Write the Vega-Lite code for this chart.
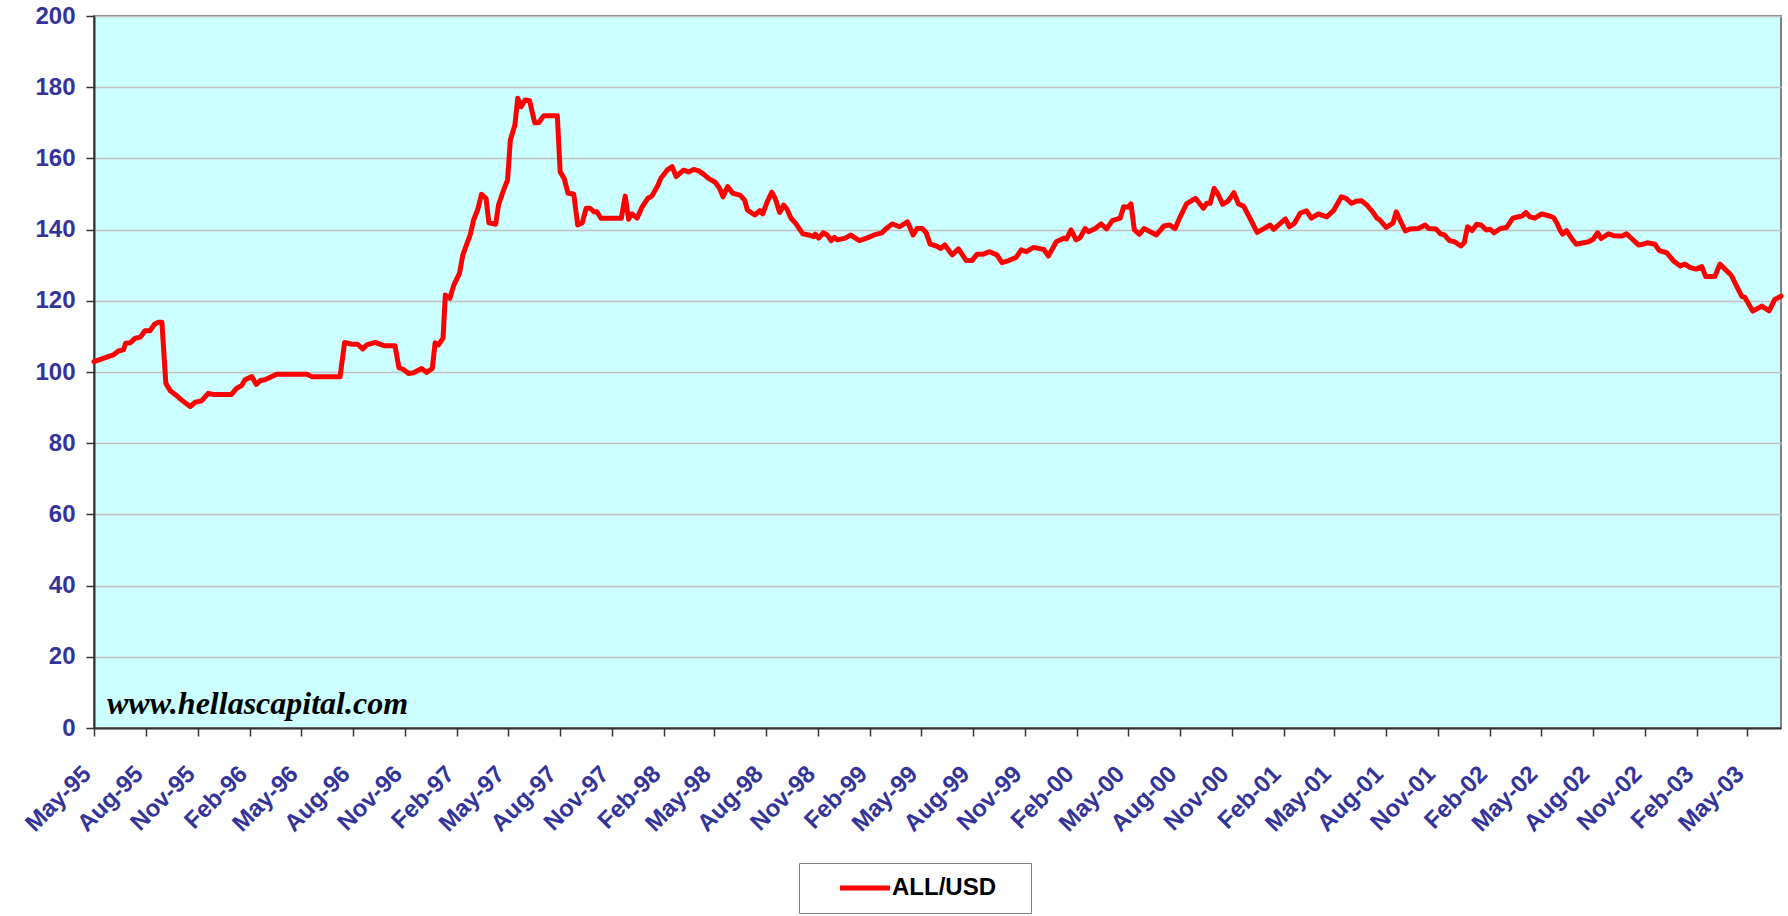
{
  "$schema": "https://vega.github.io/schema/vega-lite/v6.json",
  "width": 1687,
  "height": 712,
  "autosize": {"type": "none"},
  "padding": {"left": 94, "top": 16, "right": 7, "bottom": 188},
  "background": "white",
  "config": {
    "view": {"fill": "#CCFFFF", "stroke": "#808080", "strokeWidth": 2},
    "font": "Liberation Sans"
  },
  "layer": [
    {
      "data": {"values": [
        {"date":"1995-05-01","rate":102.9},{"date":"1995-06-04","rate":104.8},{"date":"1995-06-13","rate":105.9},{"date":"1995-06-22","rate":106.2},{"date":"1995-06-26","rate":108.1},{"date":"1995-07-04","rate":108.2},{"date":"1995-07-13","rate":109.5},{"date":"1995-07-22","rate":109.8},{"date":"1995-07-30","rate":111.6},{"date":"1995-08-08","rate":111.6},{"date":"1995-08-16","rate":113.4},{"date":"1995-08-23","rate":114.0},{"date":"1995-08-29","rate":114.0},{"date":"1995-09-05","rate":96.8},{"date":"1995-09-13","rate":94.7},{"date":"1995-09-23","rate":93.5},{"date":"1995-10-03","rate":92.1},{"date":"1995-10-18","rate":90.3},{"date":"1995-10-27","rate":91.5},{"date":"1995-11-07","rate":91.9},{"date":"1995-11-19","rate":94.0},{"date":"1995-11-28","rate":93.7},{"date":"1995-12-30","rate":93.7},
        {"date":"1996-01-08","rate":95.4},{"date":"1996-01-17","rate":96.2},{"date":"1996-01-23","rate":97.8},{"date":"1996-02-04","rate":98.7},{"date":"1996-02-12","rate":96.5},{"date":"1996-02-19","rate":97.6},{"date":"1996-02-27","rate":97.8},{"date":"1996-03-19","rate":99.4},{"date":"1996-05-11","rate":99.4},{"date":"1996-05-20","rate":98.7},{"date":"1996-07-09","rate":98.7},{"date":"1996-07-17","rate":108.3},{"date":"1996-07-30","rate":107.8},{"date":"1996-08-09","rate":107.8},{"date":"1996-08-18","rate":106.5},{"date":"1996-08-25","rate":107.6},{"date":"1996-09-09","rate":108.3},{"date":"1996-09-24","rate":107.4},{"date":"1996-10-14","rate":107.4},{"date":"1996-10-21","rate":101.2},{"date":"1996-10-29","rate":100.7},{"date":"1996-11-07","rate":99.6},{"date":"1996-11-16","rate":99.8},{"date":"1996-11-30","rate":101.0},{"date":"1996-12-09","rate":99.9},{"date":"1996-12-19","rate":101.0},{"date":"1996-12-24","rate":108.2},{"date":"1996-12-30","rate":107.6},
        {"date":"1997-01-07","rate":109.5},{"date":"1997-01-11","rate":121.6},{"date":"1997-01-19","rate":120.7},{"date":"1997-01-26","rate":124.4},{"date":"1997-02-05","rate":127.7},{"date":"1997-02-11","rate":132.9},{"date":"1997-02-24","rate":138.5},{"date":"1997-03-02","rate":142.7},{"date":"1997-03-09","rate":145.5},{"date":"1997-03-16","rate":149.9},{"date":"1997-03-24","rate":148.8},{"date":"1997-03-29","rate":141.9},{"date":"1997-04-10","rate":141.5},{"date":"1997-04-15","rate":146.9},{"date":"1997-04-24","rate":151.1},{"date":"1997-05-01","rate":153.9},{"date":"1997-05-06","rate":165.2},{"date":"1997-05-14","rate":169.4},{"date":"1997-05-19","rate":176.9},{"date":"1997-05-25","rate":174.5},{"date":"1997-06-01","rate":176.4},{"date":"1997-06-09","rate":176.2},{"date":"1997-06-18","rate":170.0},{"date":"1997-06-25","rate":170.0},{"date":"1997-07-04","rate":172.0},{"date":"1997-07-28","rate":172.0},{"date":"1997-08-02","rate":156.2},{"date":"1997-08-09","rate":154.4},{"date":"1997-08-16","rate":150.2},{"date":"1997-08-26","rate":150.0},{"date":"1997-09-02","rate":141.3},{"date":"1997-09-10","rate":141.9},{"date":"1997-09-17","rate":146.0},{"date":"1997-09-24","rate":146.0},{"date":"1997-10-01","rate":145.0},{"date":"1997-10-06","rate":145.0},{"date":"1997-10-13","rate":143.2},{"date":"1997-11-18","rate":143.2},{"date":"1997-11-25","rate":149.4},{"date":"1997-12-01","rate":142.9},{"date":"1997-12-07","rate":144.4},{"date":"1997-12-16","rate":143.2},{"date":"1997-12-25","rate":146.4},
        {"date":"1998-01-04","rate":148.8},{"date":"1998-01-11","rate":149.4},{"date":"1998-01-21","rate":152.2},{"date":"1998-01-27","rate":154.4},{"date":"1998-02-07","rate":156.7},{"date":"1998-02-16","rate":157.7},{"date":"1998-02-23","rate":154.9},{"date":"1998-03-08","rate":156.7},{"date":"1998-03-17","rate":156.2},{"date":"1998-03-26","rate":156.9},{"date":"1998-04-04","rate":156.5},{"date":"1998-04-13","rate":155.5},{"date":"1998-04-21","rate":154.4},{"date":"1998-05-03","rate":153.3},{"date":"1998-05-10","rate":151.8},{"date":"1998-05-17","rate":149.2},{"date":"1998-05-25","rate":152.1},{"date":"1998-06-03","rate":150.2},{"date":"1998-06-16","rate":149.7},{"date":"1998-06-24","rate":148.3},{"date":"1998-06-29","rate":145.5},{"date":"1998-07-12","rate":144.1},{"date":"1998-07-21","rate":145.3},{"date":"1998-07-26","rate":144.4},{"date":"1998-08-03","rate":147.8},{"date":"1998-08-11","rate":150.5},{"date":"1998-08-17","rate":148.8},{"date":"1998-08-25","rate":144.8},{"date":"1998-09-01","rate":146.9},{"date":"1998-09-07","rate":145.7},{"date":"1998-09-14","rate":143.2},{"date":"1998-09-22","rate":141.8},{"date":"1998-10-05","rate":138.8},{"date":"1998-10-15","rate":138.5},{"date":"1998-10-24","rate":138.0},{"date":"1998-10-27","rate":138.7},{"date":"1998-11-02","rate":137.6},{"date":"1998-11-10","rate":139.1},{"date":"1998-11-17","rate":138.5},{"date":"1998-11-24","rate":136.9},{"date":"1998-11-30","rate":137.8},{"date":"1998-12-05","rate":137.1},{"date":"1998-12-19","rate":137.6},{"date":"1998-12-29","rate":138.5},
        {"date":"1999-01-04","rate":137.8},{"date":"1999-01-13","rate":136.9},{"date":"1999-01-26","rate":137.6},{"date":"1999-02-08","rate":138.5},{"date":"1999-02-22","rate":139.1},{"date":"1999-02-28","rate":140.1},{"date":"1999-03-12","rate":141.6},{"date":"1999-03-25","rate":140.8},{"date":"1999-04-08","rate":142.2},{"date":"1999-04-18","rate":138.5},{"date":"1999-04-25","rate":140.3},{"date":"1999-05-04","rate":140.3},{"date":"1999-05-11","rate":139.1},{"date":"1999-05-18","rate":135.9},{"date":"1999-05-29","rate":135.4},{"date":"1999-06-06","rate":134.7},{"date":"1999-06-13","rate":135.7},{"date":"1999-06-26","rate":132.9},{"date":"1999-07-07","rate":134.6},{"date":"1999-07-21","rate":131.3},{"date":"1999-07-31","rate":131.3},{"date":"1999-08-09","rate":133.1},{"date":"1999-08-20","rate":133.1},{"date":"1999-08-31","rate":133.8},{"date":"1999-09-13","rate":132.9},{"date":"1999-09-22","rate":130.7},{"date":"1999-10-04","rate":131.3},{"date":"1999-10-17","rate":132.2},{"date":"1999-10-26","rate":134.3},{"date":"1999-11-04","rate":133.8},{"date":"1999-11-17","rate":135.0},{"date":"1999-12-05","rate":134.4},{"date":"1999-12-13","rate":132.6},{"date":"1999-12-27","rate":136.6},
        {"date":"2000-01-09","rate":137.6},{"date":"2000-01-14","rate":137.3},{"date":"2000-01-22","rate":139.9},{"date":"2000-01-31","rate":137.1},{"date":"2000-02-07","rate":137.7},{"date":"2000-02-16","rate":140.3},{"date":"2000-02-22","rate":139.4},{"date":"2000-03-05","rate":140.3},{"date":"2000-03-15","rate":141.6},{"date":"2000-03-25","rate":140.2},{"date":"2000-04-04","rate":142.5},{"date":"2000-04-18","rate":143.2},{"date":"2000-04-24","rate":146.4},{"date":"2000-05-02","rate":146.3},{"date":"2000-05-07","rate":147.2},{"date":"2000-05-13","rate":139.9},{"date":"2000-05-22","rate":138.7},{"date":"2000-05-30","rate":140.3},{"date":"2000-06-10","rate":139.4},{"date":"2000-06-21","rate":138.5},{"date":"2000-07-04","rate":141.0},{"date":"2000-07-14","rate":141.3},{"date":"2000-07-24","rate":140.3},{"date":"2000-08-02","rate":143.6},{"date":"2000-08-13","rate":147.2},{"date":"2000-08-29","rate":148.8},{"date":"2000-09-12","rate":146.0},{"date":"2000-09-18","rate":147.4},{"date":"2000-09-24","rate":147.4},{"date":"2000-10-01","rate":151.6},{"date":"2000-10-07","rate":150.2},{"date":"2000-10-16","rate":147.1},{"date":"2000-10-26","rate":148.1},{"date":"2000-11-05","rate":150.4},{"date":"2000-11-13","rate":147.2},{"date":"2000-11-22","rate":146.6},{"date":"2000-12-02","rate":143.6},{"date":"2000-12-16","rate":139.2},{"date":"2000-12-27","rate":140.2},
        {"date":"2001-01-08","rate":141.3},{"date":"2001-01-14","rate":140.1},{"date":"2001-01-25","rate":141.6},{"date":"2001-02-04","rate":143.0},{"date":"2001-02-11","rate":140.8},{"date":"2001-02-20","rate":141.8},{"date":"2001-03-02","rate":144.6},{"date":"2001-03-13","rate":145.3},{"date":"2001-03-22","rate":143.2},{"date":"2001-04-03","rate":144.4},{"date":"2001-04-18","rate":143.6},{"date":"2001-04-30","rate":145.3},{"date":"2001-05-14","rate":149.2},{"date":"2001-05-22","rate":148.8},{"date":"2001-06-01","rate":147.4},{"date":"2001-06-10","rate":148.0},{"date":"2001-06-19","rate":148.1},{"date":"2001-06-29","rate":146.7},{"date":"2001-07-09","rate":144.8},{"date":"2001-07-16","rate":143.2},{"date":"2001-07-21","rate":142.7},{"date":"2001-08-01","rate":140.6},{"date":"2001-08-13","rate":141.8},{"date":"2001-08-19","rate":145.0},{"date":"2001-08-27","rate":142.2},{"date":"2001-09-04","rate":139.6},{"date":"2001-09-12","rate":140.2},{"date":"2001-09-27","rate":140.3},{"date":"2001-10-09","rate":141.3},{"date":"2001-10-15","rate":140.3},{"date":"2001-10-28","rate":140.2},{"date":"2001-11-05","rate":138.8},{"date":"2001-11-12","rate":138.5},{"date":"2001-11-21","rate":136.9},{"date":"2001-11-30","rate":136.6},{"date":"2001-12-11","rate":135.4},{"date":"2001-12-17","rate":136.3},{"date":"2001-12-23","rate":140.8},{"date":"2001-12-31","rate":139.7},
        {"date":"2002-01-08","rate":141.5},{"date":"2002-01-16","rate":141.3},{"date":"2002-01-25","rate":139.9},{"date":"2002-02-01","rate":140.1},{"date":"2002-02-08","rate":139.1},{"date":"2002-02-19","rate":140.3},{"date":"2002-03-02","rate":140.6},{"date":"2002-03-13","rate":143.2},{"date":"2002-03-23","rate":143.6},{"date":"2002-03-29","rate":143.8},{"date":"2002-04-05","rate":144.8},{"date":"2002-04-12","rate":143.6},{"date":"2002-04-21","rate":143.2},{"date":"2002-05-03","rate":144.4},{"date":"2002-05-15","rate":143.9},{"date":"2002-05-24","rate":143.4},{"date":"2002-05-30","rate":141.8},{"date":"2002-06-05","rate":139.7},{"date":"2002-06-09","rate":138.7},{"date":"2002-06-16","rate":139.7},{"date":"2002-06-25","rate":137.5},{"date":"2002-07-03","rate":135.9},{"date":"2002-07-16","rate":136.3},{"date":"2002-07-25","rate":136.6},{"date":"2002-08-02","rate":137.3},{"date":"2002-08-10","rate":139.1},{"date":"2002-08-16","rate":137.5},{"date":"2002-08-29","rate":138.8},{"date":"2002-09-07","rate":138.3},{"date":"2002-09-22","rate":138.2},{"date":"2002-09-30","rate":138.8},{"date":"2002-10-09","rate":137.5},{"date":"2002-10-21","rate":135.7},{"date":"2002-10-29","rate":135.9},{"date":"2002-11-06","rate":136.3},{"date":"2002-11-19","rate":135.9},{"date":"2002-11-27","rate":134.1},{"date":"2002-12-10","rate":133.5},{"date":"2002-12-22","rate":131.2},
        {"date":"2003-01-03","rate":129.8},{"date":"2003-01-11","rate":130.3},{"date":"2003-01-20","rate":129.4},{"date":"2003-01-31","rate":128.9},{"date":"2003-02-10","rate":129.6},{"date":"2003-02-17","rate":126.8},{"date":"2003-03-05","rate":126.8},{"date":"2003-03-14","rate":130.3},{"date":"2003-03-23","rate":128.9},{"date":"2003-04-03","rate":127.2},{"date":"2003-04-13","rate":124.0},{"date":"2003-04-22","rate":121.2},{"date":"2003-04-27","rate":121.0},{"date":"2003-05-11","rate":117.1},{"date":"2003-05-27","rate":118.5},{"date":"2003-06-09","rate":117.2},{"date":"2003-06-19","rate":120.4},{"date":"2003-06-30","rate":121.3}
      ]},
      "mark": {"type": "line", "strokeWidth": 5, "strokeJoin": "round", "strokeCap": "round"},
      "encoding": {
        "x": {
          "field": "date", "type": "temporal",
          "scale": {"type": "utc", "nice": false, "domain": [{"year": 1995, "month": 5, "date": 1, "utc": true}, {"year": 2003, "month": 6, "date": 30, "utc": true}]},
          "axis": {
            "title": null, "grid": false, "format": "%b-%y",
            "values": [
              {"year":1995,"month":5,"date":1,"utc":true},{"year":1995,"month":8,"date":1,"utc":true},{"year":1995,"month":11,"date":1,"utc":true},
              {"year":1996,"month":2,"date":1,"utc":true},{"year":1996,"month":5,"date":1,"utc":true},{"year":1996,"month":8,"date":1,"utc":true},{"year":1996,"month":11,"date":1,"utc":true},
              {"year":1997,"month":2,"date":1,"utc":true},{"year":1997,"month":5,"date":1,"utc":true},{"year":1997,"month":8,"date":1,"utc":true},{"year":1997,"month":11,"date":1,"utc":true},
              {"year":1998,"month":2,"date":1,"utc":true},{"year":1998,"month":5,"date":1,"utc":true},{"year":1998,"month":8,"date":1,"utc":true},{"year":1998,"month":11,"date":1,"utc":true},
              {"year":1999,"month":2,"date":1,"utc":true},{"year":1999,"month":5,"date":1,"utc":true},{"year":1999,"month":8,"date":1,"utc":true},{"year":1999,"month":11,"date":1,"utc":true},
              {"year":2000,"month":2,"date":1,"utc":true},{"year":2000,"month":5,"date":1,"utc":true},{"year":2000,"month":8,"date":1,"utc":true},{"year":2000,"month":11,"date":1,"utc":true},
              {"year":2001,"month":2,"date":1,"utc":true},{"year":2001,"month":5,"date":1,"utc":true},{"year":2001,"month":8,"date":1,"utc":true},{"year":2001,"month":11,"date":1,"utc":true},
              {"year":2002,"month":2,"date":1,"utc":true},{"year":2002,"month":5,"date":1,"utc":true},{"year":2002,"month":8,"date":1,"utc":true},{"year":2002,"month":11,"date":1,"utc":true},
              {"year":2003,"month":2,"date":1,"utc":true},{"year":2003,"month":5,"date":1,"utc":true}
            ],
            "labelAngle": -45, "labelAlign": "right", "labelBaseline": "middle",
            "labelPadding": 34, "labelOffset": -7,
            "labelOverlap": false, "labelFlush": false, "labelBound": false,
            "labelFont": "Liberation Sans", "labelFontSize": 24, "labelFontWeight": "bold", "labelColor": "#333399",
            "domainColor": "#333333", "domainWidth": 2,
            "tickColor": "#333333", "tickWidth": 1.5, "tickSize": 8
          }
        },
        "y": {
          "field": "rate", "type": "quantitative",
          "scale": {"domain": [0, 200], "nice": false, "zero": true},
          "axis": {
            "title": null, "values": [0, 20, 40, 60, 80, 100, 120, 140, 160, 180, 200],
            "grid": true, "gridColor": "#c0c0c0", "gridWidth": 1.5,
            "labelFont": "Liberation Sans", "labelFontSize": 24, "labelFontWeight": "bold", "labelColor": "#333399",
            "labelPadding": 11,
            "domainColor": "#333333", "domainWidth": 2,
            "tickColor": "#333333", "tickWidth": 1.5, "tickSize": 8
          }
        },
        "color": {
          "datum": "ALL/USD", "type": "nominal",
          "scale": {"range": ["#ff0000"]},
          "legend": {
            "orient": "none", "legendX": 705, "legendY": 847,
            "title": "\u00a0", "titleOrient": "right", "titlePadding": 22, "titleFontSize": 24,
            "strokeColor": "#808080", "padding": 13,
            "symbolType": "M-5,0H5", "symbolStrokeWidth": 5, "symbolSize": 100, "symbolOffset": 41,
            "labelOffset": 15, "labelFont": "Liberation Sans", "labelFontSize": 24, "labelFontWeight": "bold", "labelColor": "black"
          }
        }
      }
    },
    {
      "data": {"values": [{"label": "www.hellascapital.com"}]},
      "mark": {"type": "text", "align": "left", "baseline": "alphabetic", "font": "Liberation Serif", "fontSize": 32, "fontStyle": "italic", "fontWeight": "bold", "color": "black"},
      "encoding": {
        "x": {"datum": {"year": 1995, "month": 5, "date": 24, "utc": true}, "type": "temporal"},
        "y": {"datum": 3.9, "type": "quantitative"},
        "text": {"field": "label"}
      }
    }
  ]
}
